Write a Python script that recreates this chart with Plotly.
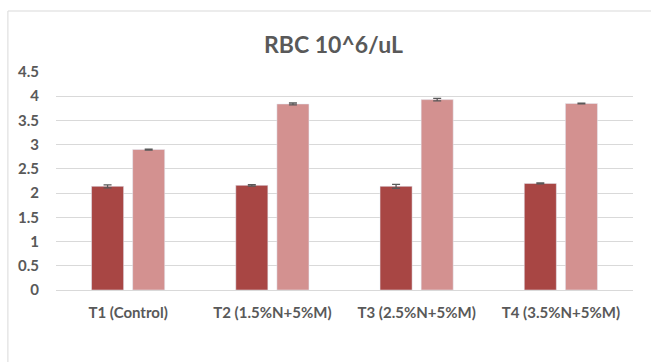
import plotly.graph_objects as go

categories = ["T1 (Control)", "T2 (1.5%N+5%M)", "T3 (2.5%N+5%M)", "T4 (3.5%N+5%M)"]
series_a = [2.14, 2.16, 2.14, 2.20]
series_a_err = [0.03, 0.015, 0.04, 0.01]
series_b = [2.90, 3.84, 3.93, 3.85]
series_b_err = [0.01, 0.02, 0.025, 0.006]
y_ticks = [0, 0.5, 1, 1.5, 2, 2.5, 3, 3.5, 4, 4.5]

gray = "#595959"
fig = go.Figure()
fig.add_trace(go.Bar(
    x=categories, y=series_a, marker_color="#A84644",
    error_y=dict(type="data", array=series_a_err, color=gray, thickness=1.3, width=4),
))
fig.add_trace(go.Bar(
    x=categories, y=series_b, marker_color="#D39190",
    error_y=dict(type="data", array=series_b_err, color=gray, thickness=1.3, width=4),
))

fig.update_layout(
    width=651, height=362,
    margin=dict(l=56, r=18, t=72, b=72),
    paper_bgcolor="white", plot_bgcolor="white",
    showlegend=False,
    barmode="group", bargap=0.43, bargroupgap=0.22,
    title=dict(text="RBC 10^6/uL", x=(333 - 56) / 576, xanchor="center", xref="paper",
               y=1 - 45 / 362, yanchor="middle",
               font=dict(family="Lato", size=23, color=gray, weight="bold")),
    font=dict(family="Lato", size=15, color=gray),
    xaxis=dict(showgrid=False, showline=False, ticks="", ticklabelstandoff=12,
               tickfont=dict(family="Lato", size=15, color=gray, weight="bold")),
    yaxis=dict(range=[0, 4.5], tickvals=y_ticks, showgrid=True, gridcolor="#D9D9D9",
               gridwidth=1, zeroline=True, zerolinecolor="#D9D9D9", zerolinewidth=1,
               showline=False, ticks="", ticklabelstandoff=16,
               tickfont=dict(family="Lato", size=15, color=gray, weight="bold")),
    shapes=[dict(type="rect", xref="paper", yref="paper",
                 x0=(8 - 56) / 576, x1=1.3, y0=-0.6, y1=(290 - 11) / 218,
                 line=dict(color="#D9D9D9", width=1), fillcolor="rgba(0,0,0,0)",
                 layer="below")],
)

fig.write_html("out.html", config={"displayModeBar": False})
with open("out.html", "r", encoding="utf-8") as f:
    html = f.read()
html = html.replace("<head>", "<head><style>html,body{margin:0;padding:0;overflow:hidden;}</style>", 1)
with open("out.html", "w", encoding="utf-8") as f:
    f.write(html)
